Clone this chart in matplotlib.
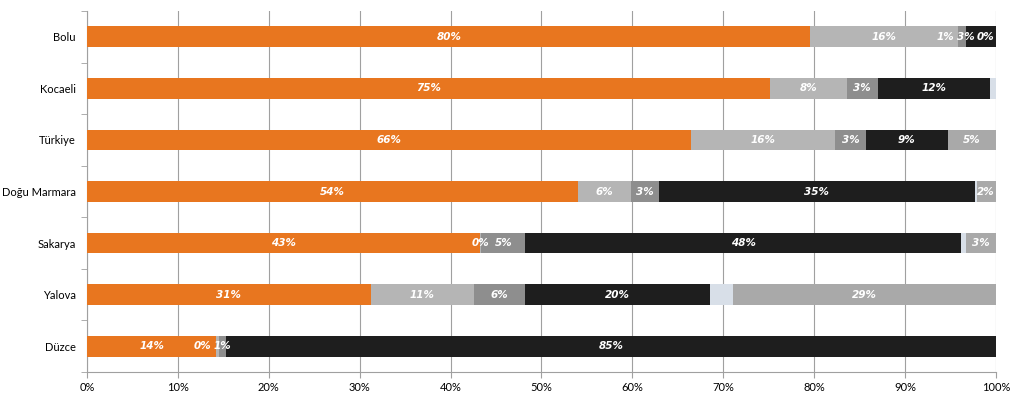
import numpy as np
import matplotlib.pyplot as plt

# Kategoriler (yukaridan asagiya)
regions = ['Bolu', 'Kocaeli', 'Türkiye', 'Doğu Marmara', 'Sakarya', 'Yalova', 'Düzce']

# Seri degerleri (%), nan = etiket/cubuk yok
s_orange = [79.6, 75.2, 66.5, 54.0, 43.2, 31.2, 14.2]
s_light = [16.2, 8.4, 15.8, 5.9, 0.2, 11.4, 0.3]
s_mid = [0.9, 3.4, 3.4, 3.0, 4.8, 5.6, 0.8]
s_black = [3.3, 12.4, 9.0, 34.8, 48.0, 20.3, 84.7]
s_pale = [np.nan, 0.6, np.nan, 0.2, 0.5, 2.6, np.nan]
s_gray = [0.0, np.nan, 5.3, 2.1, 3.3, 28.9, np.nan]

series = [s_orange, s_light, s_mid, s_black, s_pale, s_gray]
colors = ['#E8761F', '#B5B5B5', '#8E8E8E', '#1E1E1E', '#D8DFE8', '#A9A9A9']
show_labels = [True, True, True, True, False, True]

fig = plt.figure(figsize=(10.23, 4.05), dpi=100)
ax = fig.add_axes([0.085, 0.0815, 0.8885, 0.8913])

y = np.arange(len(regions))
left = np.zeros(len(regions))
labels = {i: [] for i in range(len(regions))}
for vals, col, lab in zip(series, colors, show_labels):
    v = np.array(vals, dtype=float)
    w = np.nan_to_num(v)
    ax.barh(y, w, left=left, height=0.4, color=col, zorder=3)
    if lab:
        for i in range(len(regions)):
            if not np.isnan(v[i]):
                t = ax.text(left[i] + w[i] / 2, y[i], f'{round(v[i]):.0f}%',
                            ha='center', va='center', color='white',
                            fontsize=7.5, fontstyle='italic', fontweight='bold',
                            family='DejaVu Sans', zorder=4)
                labels[i].append(t)
    left += w

ax.set_xlim(0, 100)
ax.set_ylim(len(regions) - 0.5, -0.5)

# ust uste binen etiketleri kaydir (sagdan sola)
fig.canvas.draw()
r = fig.canvas.get_renderer()
px = ax.transData.transform([(0, 0), (1, 0)])
unit = px[1, 0] - px[0, 0]
for i, txts in labels.items():
    limit = 100.0
    for t in reversed(txts):
        half = t.get_window_extent(r).width / unit / 2 + 0.15
        x = t.get_position()[0]
        if x + half > limit:
            x = limit - half
            t.set_x(x)
        limit = x - half

ax.set_xticks(np.arange(0, 101, 10))
ax.set_xticklabels([f'{t}%' for t in range(0, 101, 10)], family='Lato', fontsize=8)
ax.set_yticks(y)
ax.set_yticklabels(regions, family='Lato', fontsize=8)
ax.set_yticks(np.arange(-0.5, len(regions), 1), minor=True)
ax.tick_params(axis='y', which='major', length=0, pad=8)
ax.tick_params(axis='y', which='minor', length=4, color='#A0A0A0')
ax.tick_params(axis='x', length=4, color='#A0A0A0')
ax.grid(axis='x', color='#A0A0A0', linewidth=0.8, zorder=0)
for s in ['top', 'right']:
    ax.spines[s].set_visible(False)
for s in ['left', 'bottom']:
    ax.spines[s].set_color('#A0A0A0')

plt.savefig('out.png')
